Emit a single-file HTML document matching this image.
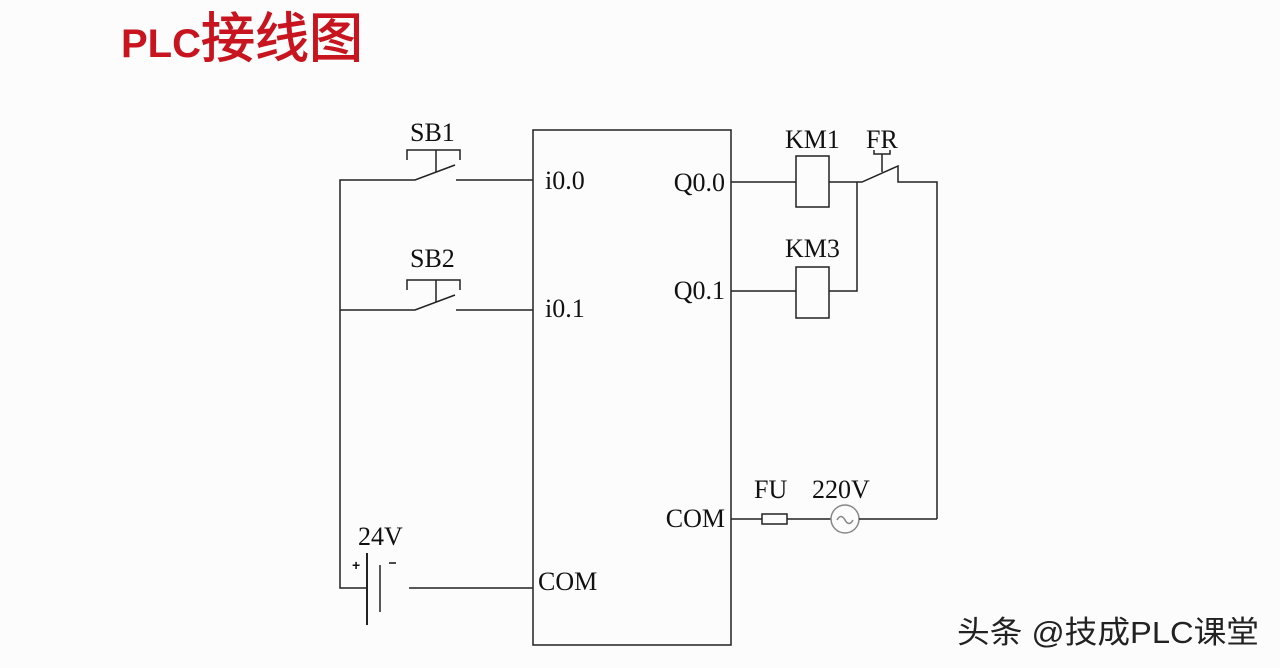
<!DOCTYPE html>
<html><head><meta charset="utf-8"><style>
html,body{margin:0;padding:0;background:#fcfcfd;}
svg{display:block}
</style></head><body>
<svg width="1280" height="668" viewBox="0 0 1280 668" xmlns="http://www.w3.org/2000/svg">
<rect width="1280" height="668" fill="#fcfcfd"/>
<text x="121" y="57" font-family="'Liberation Sans','Noto Sans CJK SC',sans-serif" font-weight="bold" fill="#c8141e"><tspan font-size="40">PLC</tspan><tspan font-size="54" font-weight="normal" stroke="#c8141e" stroke-width="1">接线图</tspan></text>
<g stroke="#222" stroke-width="1.5" fill="none">
<rect x="533" y="130" width="198" height="515"/>
<polyline points="533,588 409,588"/>
<polyline points="366,588 340,588 340,180 415,180 455,165"/>
<line x1="456" y1="180" x2="533" y2="180"/>
<polyline points="340,310 415,310 455,295"/>
<line x1="456" y1="310" x2="533" y2="310"/>
<polyline points="407,160 407,150 460,150 460,160"/>
<line x1="436" y1="150" x2="436" y2="172"/>
<polyline points="407,290 407,280 460,280 460,290"/>
<line x1="436" y1="280" x2="436" y2="302"/>
<line x1="367" y1="553" x2="367" y2="625" stroke-width="2"/>
<line x1="380" y1="565" x2="380" y2="612"/>
<line x1="731" y1="182" x2="796" y2="182"/>
<rect x="796" y="156" width="33" height="51"/>
<polyline points="829,182 862,182 898,166 898,182 937,182 937,519"/>
<polyline points="857,182 857,291 829,291"/>
<line x1="731" y1="291" x2="796" y2="291"/>
<rect x="796" y="267" width="33" height="51"/>
<polyline points="874,150 874,154 890,154 890,150"/>
<line x1="882" y1="154" x2="882" y2="172"/>
<line x1="731" y1="519" x2="762" y2="519"/>
<rect x="762" y="514" width="25" height="10"/>
<line x1="787" y1="519" x2="831" y2="519"/>
<circle cx="845" cy="519" r="14" stroke="#888"/>
<path d="M837,520 q4,-7 8,0 q4,7 8,0" stroke="#888"/>
<line x1="859" y1="519" x2="937" y2="519"/>
</g>
<g font-family="'Liberation Serif',serif" font-size="26" fill="#111">
<text x="410" y="141">SB1</text>
<text x="410" y="267">SB2</text>
<text x="545" y="189">i0.0</text>
<text x="545" y="317">i0.1</text>
<text x="725" y="191" text-anchor="end">Q0.0</text>
<text x="725" y="299" text-anchor="end">Q0.1</text>
<text x="725" y="527" text-anchor="end">COM</text>
<text x="538" y="590">COM</text>
<text x="785" y="148">KM1</text>
<text x="866" y="148">FR</text>
<text x="785" y="257">KM3</text>
<text x="754" y="498">FU</text>
<text x="812" y="498">220V</text>
<text x="358" y="545">24V</text>
</g>
<text x="352" y="570" font-family="'Liberation Sans',sans-serif" font-size="14" font-weight="bold" fill="#111">+</text>
<line x1="389" y1="563" x2="396" y2="563" stroke="#111" stroke-width="1.5"/>
<text x="957" y="643" font-family="'Liberation Sans','Noto Sans CJK SC',sans-serif" font-size="31" fill="#222" textLength="302" lengthAdjust="spacingAndGlyphs">头条 @技成PLC课堂</text>
</svg>
</body></html>
